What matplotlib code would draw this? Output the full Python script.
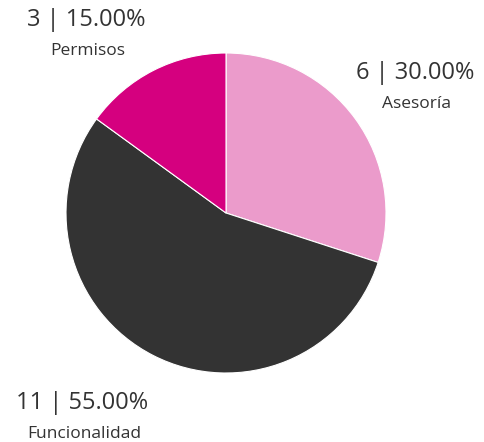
import matplotlib.pyplot as plt

categories = ['Asesoría', 'Funcionalidad', 'Permisos']
counts = [6, 11, 3]
colors = ['#EB9BCB', '#333333', '#D5007F']

# label anchor positions (pixels, y from top)
label_pos = {'Asesoría': (415, 73), 'Funcionalidad': (82, 403), 'Permisos': (86, 20)}

W, H = 484, 442
fig = plt.figure(figsize=(W / 100, H / 100), dpi=100)
ax = fig.add_axes([0, 0, 1, 1])
ax.set_xlim(0, W)
ax.set_ylim(0, H)
ax.set_aspect('equal')
ax.axis('off')

ax.pie(counts, colors=colors, startangle=90, counterclock=False,
       center=(226, H - 213), radius=160,
       wedgeprops=dict(edgecolor='white', linewidth=0.8))
ax.set_xlim(0, W)
ax.set_ylim(0, H)

total = sum(counts)
for cat, n in zip(categories, counts):
    x, y = label_pos[cat]
    ax.text(x, H - y, f'{n} | {100 * n / total:.2f}%', ha='center', va='center',
            fontsize=17, color='#333333', family='Open Sans')
    ax.text(x + 2, H - y - 31, cat, ha='center', va='center',
            fontsize=12.5, color='#333333', family='Open Sans')

fig.savefig('out.png', dpi=100)
